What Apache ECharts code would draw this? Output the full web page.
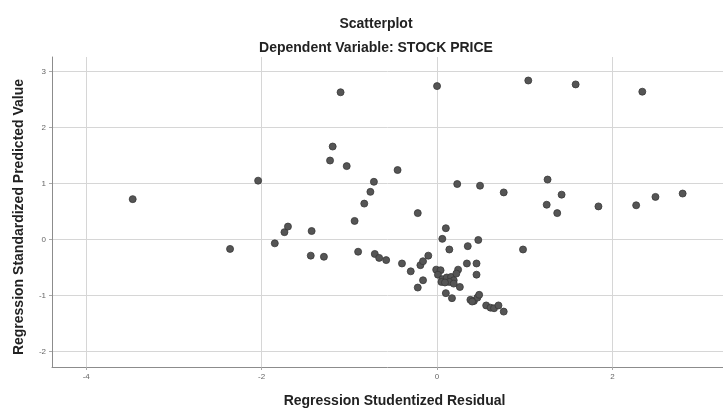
<!DOCTYPE html>
<html>
<head>
<meta charset="utf-8">
<title>Scatterplot</title>
<script src="https://cdn.jsdelivr.net/npm/echarts@6/dist/echarts.min.js"></script>
<style>
  html, body { margin: 0; padding: 0; background: #fff; }
  #main { width: 723px; height: 409px; }
</style>
</head>
<body>
<div id="main"></div>
<script>
// 数据：学生化残差 / 标准化预测值
const residuals = [
  -3.47, -2.36, -2.04, -1.85, -1.74, -1.70, -1.43, -1.44, -1.29, -1.10,
  -1.19, -1.22, -1.03, -0.94, -0.90, -0.83, -0.76, -0.72, -0.71, -0.66,
  -0.58, -0.45, -0.40, -0.30, -0.22, -0.19, -0.16, -0.10, -0.16, -0.22,
  0.00, 0.10, 0.06, 0.14, 0.35, 0.47, 0.98, -0.01, 0.04, 0.01,
  0.06, 0.05, 0.11, 0.16, 0.19, 0.24, 0.22, 0.14, 0.09, 0.26,
  0.19, 0.34, 0.45, 0.45, 0.10, 0.17, 0.38, 0.42, 0.46, 0.48,
  0.40, 0.56, 0.61, 0.65, 0.70, 0.76, 0.23, 0.49, 0.76, 1.04,
  1.58, 2.34, 1.26, 1.42, 1.25, 1.37, 1.84, 2.27, 2.49, 2.80
];
const predicted = [
  0.72, -0.17, 1.05, -0.07, 0.13, 0.23, 0.15, -0.29, -0.31, 2.63,
  1.66, 1.41, 1.31, 0.33, -0.22, 0.64, 0.85, 1.03, -0.26, -0.33,
  -0.37, 1.24, -0.43, -0.57, 0.47, -0.46, -0.39, -0.29, -0.73, -0.86,
  2.74, 0.20, 0.01, -0.18, -0.12, -0.01, -0.18, -0.54, -0.55, -0.63,
  -0.71, -0.76, -0.68, -0.67, -0.73, -0.54, -0.61, -0.76, -0.77, -0.85,
  -0.79, -0.43, -0.43, -0.63, -0.96, -1.05, -1.08, -1.10, -1.04, -0.99,
  -1.11, -1.18, -1.22, -1.23, -1.18, -1.29, 0.99, 0.96, 0.84, 2.84,
  2.77, 2.64, 1.07, 0.80, 0.62, 0.47, 0.59, 0.61, 0.76, 0.82
];
const xTicks = [-4, -2, 0, 2];
const yTicks = [-2, -1, 0, 1, 2, 3];

const points = residuals.map((x, i) => [x, predicted[i]]);

// 网格线用 markLine 画，刻度不从 min 开始数
const gridLines = xTicks.map(v => ({ xAxis: v }))
  .concat(yTicks.map(v => ({ yAxis: v })));

const font = '"Liberation Sans", Arial, sans-serif';

const myChart = echarts.init(document.getElementById('main'));

myChart.setOption({
  backgroundColor: '#fff',
  animation: false,
  title: [
    {
      text: 'Scatterplot',
      left: 371, top: 12, textAlign: 'center',
      textStyle: { fontFamily: font, fontSize: 14, fontWeight: 'bold', color: '#222' }
    },
    {
      text: 'Dependent Variable: STOCK PRICE',
      left: 371, top: 36, textAlign: 'center',
      textStyle: { fontFamily: font, fontSize: 14, fontWeight: 'bold', color: '#222' }
    }
  ],
  // 固定绘图区，不让轴名挤压网格
  grid: { left: 52, right: 0, top: 57, bottom: 42, containLabel: false, outerBoundsMode: 'none' },
  xAxis: {
    type: 'value',
    min: -4.39, max: 3.26,
    name: 'Regression Studentized Residual',
    nameLocation: 'middle',
    nameGap: 27,
    nameTextStyle: { fontFamily: font, fontSize: 14, fontWeight: 'bold', color: '#222', padding: [0, 0, 0, 14] },
    axisLine: { show: true, onZero: false, lineStyle: { color: '#8c8c8c' } },
    axisTick: { show: true, length: 3, customValues: xTicks, lineStyle: { color: '#aaa' } },
    axisLabel: { customValues: xTicks, fontFamily: font, fontSize: 8, color: '#666', margin: 6 },
    splitLine: { show: false }
  },
  yAxis: {
    type: 'value',
    min: -2.28, max: 3.26,
    name: 'Regression Standardized Predicted Value',
    nameLocation: 'middle',
    nameGap: 26,
    nameTextStyle: { fontFamily: font, fontSize: 14, fontWeight: 'bold', color: '#222', padding: [0, 10, 0, 0] },
    axisLine: { show: true, onZero: false, lineStyle: { color: '#8c8c8c' } },
    axisTick: { show: true, length: 3, customValues: yTicks, lineStyle: { color: '#aaa' } },
    axisLabel: { customValues: yTicks, fontFamily: font, fontSize: 8, color: '#666', margin: 6 },
    splitLine: { show: false }
  },
  series: [
    {
      type: 'scatter',
      data: points,
      symbolSize: 7,
      itemStyle: { color: '#555', borderColor: '#383838', borderWidth: 0.8, opacity: 1 },
      markLine: {
        silent: true,
        symbol: ['none', 'none'],
        label: { show: false },
        lineStyle: { color: '#d6d6d6', type: 'solid', width: 1 },
        data: gridLines,
        z: 0
      },
      z: 3
    }
  ]
});
</script>
</body>
</html>
